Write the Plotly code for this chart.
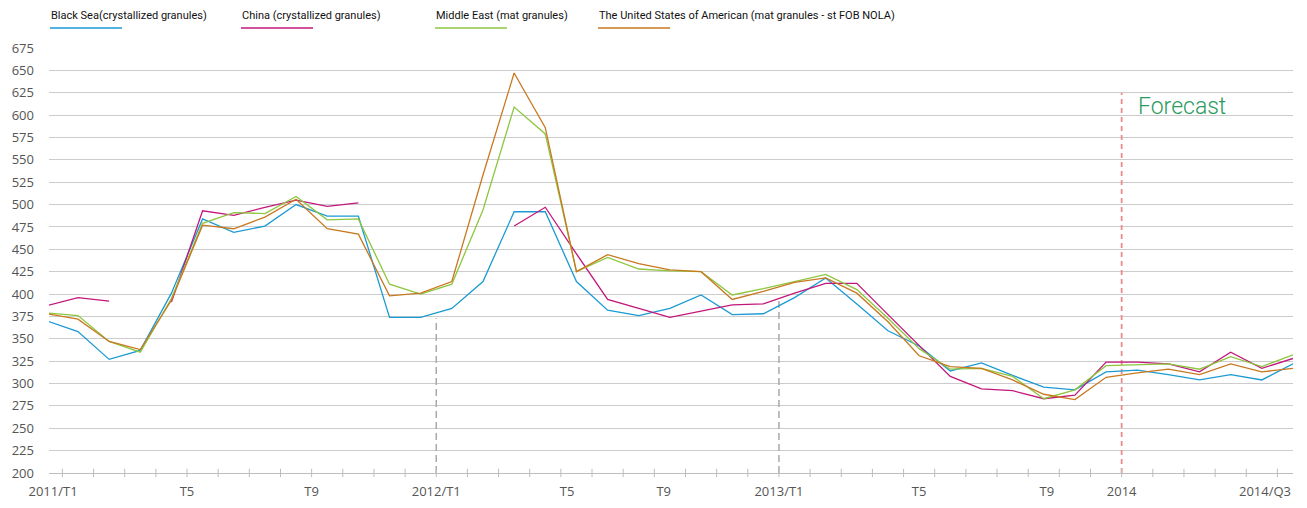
import plotly.graph_objects as go

# ---- data (USD/tonne), one value per monthly/quarterly period; None = no quote ----
n_periods = 41
period_idx = list(range(n_periods))

black_sea = [370, 358, 327, 337, 401, 484, 469, 476, 500, 487, 487, 374, 374, 384, 414,
             492, 492, 414, 382, 376, 384, 399, 377, 378, 396, 418, 389, 359, 342, 314,
             323, 309, 296, 293, 313, 315, 310, 304, 310, 304, 322]
china = [387, 396, 392, None, 391, 493, 488, 497, 505, 498, 502, None, None, None, None,
         476, 497, 445, 394, 384, 374, 381, 388, 389, 401, 412, 412, 377, 343, 308,
         294, 292, 283, 287, 324, 324, 322, 313, 335, 317, 328]
middle_east = [379, 376, 347, 335, 395, 479, 491, 490, 509, 483, 484, 411, 400, 411, 494,
               609, 579, 425, 441, 428, 426, 425, 399, 406, 414, 422, 405, 373, 339, 316,
               317, 308, 283, 293, 320, 321, 322, 316, 330, 319, 332]
usa_nola = [378, 372, 347, 338, 393, 477, 473, 486, 506, 473, 467, 398, 401, 414, 533,
            647, 586, 425, 444, 434, 427, 425, 394, 403, 413, 418, 401, 369, 331, 319,
            317, 304, 288, 282, 307, 312, 316, 310, 322, 313, 317]

series_names = [
    "Black Sea(crystallized granules)",
    "China (crystallized granules)",
    "Middle East (mat granules)",
    "The United States of American (mat granules - st FOB NOLA)",
]
series_values = [black_sea, china, middle_east, usa_nola]
series_colors = ["#1b9ad3", "#c2177b", "#8dc63f", "#c8781f"]

# x-axis labels and where they sit along the period index
x_tick_text = ["2011/T1", "T5", "T9", "2012/T1", "T5", "T9", "2013/T1", "T5", "T9", "2014", "2014/Q3"]
x_tick_pos = [0.2, 4.5, 8.5, 12.5, 16.7, 19.8, 23.5, 28.0, 32.1, 34.5, 39.1]

y_ticks = list(range(200, 676, 25))
y_tick_text = [str(v) for v in y_ticks]

# year separators (gray) and start of forecast (red)
year_marks = [(12.5, 373), (23.5, 396)]
forecast_start = 34.5
forecast_top = 625

# ---- figure geometry ----
W, H = 1307, 508
ML, MR, MT, MB = 49, 14, 48, 35
FONT = "Open Sans, DejaVu Sans, sans-serif"
LEG_FONT = "Roboto, Lato, sans-serif"


def px_x(p):
    return (p - ML) / (W - ML - MR)


def px_y(p):
    return (H - MB - p) / (H - MT - MB)


fig = go.Figure()

for name, vals, col in zip(series_names, series_values, series_colors):
    fig.add_trace(go.Scatter(
        x=period_idx, y=vals, name=name, mode="lines",
        line=dict(color=col, width=1.3), connectgaps=False,
        showlegend=False, hoverinfo="skip",
    ))

# category boundary ticks crossing the baseline
boundaries = [k + 0.5 for k in range(n_periods - 1)]
fig.add_trace(go.Scatter(
    x=boundaries, y=[200] * len(boundaries), mode="markers",
    marker=dict(symbol="line-ns", size=6, line=dict(color="#bdbdbd", width=1)),
    cliponaxis=False, showlegend=False, hoverinfo="skip",
))

# origin ring
fig.add_trace(go.Scatter(
    x=[-0.035], y=[200], mode="markers",
    marker=dict(symbol="circle", size=11, color="white", line=dict(color="#f7c600", width=3)),
    cliponaxis=False, showlegend=False, hoverinfo="skip",
))

shapes = []
for xv, top in year_marks:
    shapes.append(dict(type="line", xref="x", yref="y", x0=xv, x1=xv, y0=200, y1=top,
                       line=dict(color="#a9a9a9", width=1.5, dash="7px,4px"), layer="between"))
shapes.append(dict(type="line", xref="x", yref="y", x0=forecast_start, x1=forecast_start,
                   y0=200, y1=forecast_top,
                   line=dict(color="#f08a8a", width=1.8, dash="5px,4px"), layer="between"))

# legend: label on top, short coloured rule beneath
annotations = []
legend_x = [50, 241, 435, 598]
for name, col, lx in zip(series_names, series_colors, legend_x):
    annotations.append(dict(
        xref="paper", yref="paper", x=px_x(lx - 1), y=px_y(15), xanchor="left", yanchor="middle",
        text=name, showarrow=False, font=dict(family=LEG_FONT, size=11, color="#111"),
    ))
    shapes.append(dict(type="line", xref="paper", yref="paper",
                       x0=px_x(lx), x1=px_x(lx + 72), y0=px_y(28), y1=px_y(28),
                       line=dict(color=col, width=1.5)))

annotations.append(dict(
    xref="x", yref="y", x=34.95, y=610, xanchor="left", yanchor="middle",
    text="Forecast", showarrow=False,
    font=dict(family="Roboto, Open Sans, sans-serif", size=23, color="#2a9a5e", weight=300),
))

fig.update_layout(
    width=W, height=H,
    margin=dict(l=ML, r=MR, t=MT, b=MB, pad=0, autoexpand=False),
    paper_bgcolor="white", plot_bgcolor="white",
    shapes=shapes, annotations=annotations,
    font=dict(family=FONT, size=13, color="#555"),
    xaxis=dict(
        range=[0.07, 40.0], showgrid=False, zeroline=False, automargin=False,
        showline=True, linecolor="#bdbdbd", linewidth=1.3,
        tickmode="array", tickvals=x_tick_pos, ticktext=x_tick_text,
        ticks="", ticklabelstandoff=6, tickfont=dict(family=FONT, size=13, color="#555"),
    ),
    yaxis=dict(
        range=[200, 675], showgrid=True, gridcolor="#cccccc", gridwidth=1.3,
        zeroline=False, showline=False, automargin=False,
        tickmode="array", tickvals=y_ticks, ticktext=y_tick_text,
        ticks="", ticklabelstandoff=14, tickfont=dict(family=FONT, size=13, color="#555"),
    ),
)

fig.write_html("out.html")
